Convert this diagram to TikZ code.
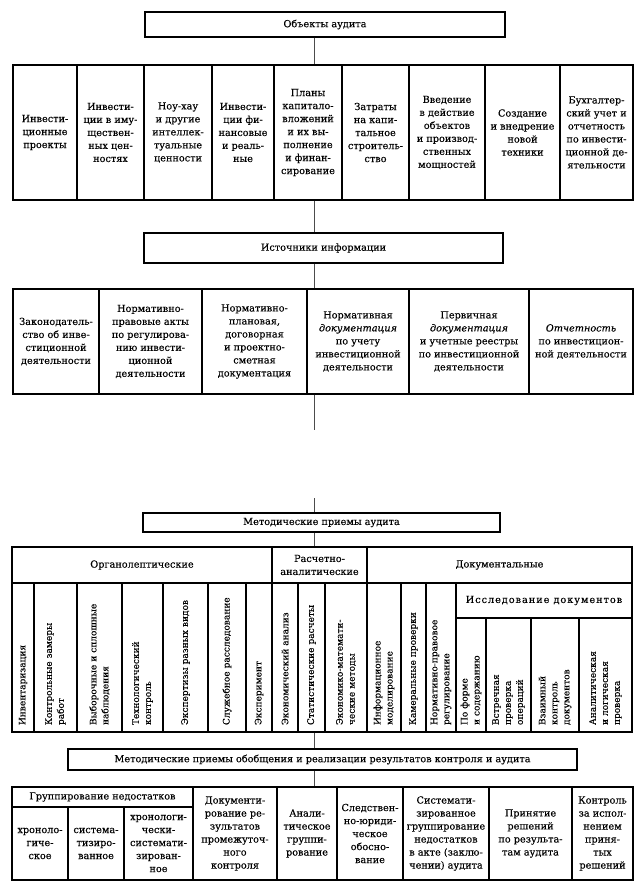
\documentclass[tikz,border=0pt]{standalone}
\usepackage{fontspec}
\setmainfont{DejaVu Serif}[FakeBold=0.15]
\usetikzlibrary{calc}
\tikzset{
  base/.style={draw=black, line width=1.2pt, inner sep=0pt, align=center, font=\fontsize{9.7}{13}\selectfont},
  vbase/.style={base, rotate=90, align=left, font=\fontsize{9}{12}\selectfont},
  conn/.style={draw=black!70, line width=0.9pt},
}
\newcommand{\mkcell}[7]{%
  \pgfmathsetmacro{\myW}{#5-#3}\pgfmathsetmacro{\myH}{#6-#4}%
  \node[#1, minimum width=\myW pt, minimum height=\myH pt] (#2) at ({(#3+#5)/2},{(#4+#6)/2}) {#7};}
\newcommand{\mkvcell}[7]{%
  \pgfmathsetmacro{\myW}{#5-#3}\pgfmathsetmacro{\myH}{#6-#4}\pgfmathsetmacro{\myT}{#6-#4-14}%
  \node[#1, minimum width=\myH pt, minimum height=\myW pt, text width=\myT pt] (#2) at ({(#3+#5)/2},{(#4+#6)/2}) {#7};}
\begin{document}
\begin{tikzpicture}[x=1pt,y=-1pt]
\fill[white] (0,0) rectangle (644,889);
\useasboundingbox (0,0) rectangle (644,889);
% --- Objects
\mkcell{base}{obj}{145}{12}{505}{37}{Объекты аудита}
\mkcell{base}{o1}{13}{65}{77}{200}{Инвести-\\ционные\\проекты}
\mkcell{base}{o2}{77}{65}{144}{200}{Инвести-\\ции в иму-\\ществен-\\ных цен-\\ностях}
\mkcell{base}{o3}{144}{65}{212}{200}{Ноу-хау\\и другие\\интеллек-\\туальные\\ценности}
\mkcell{base}{o4}{212}{65}{274}{200}{Инвести-\\ции фи-\\нансовые\\и реаль-\\ные}
\mkcell{base}{o5}{274}{65}{342}{200}{Планы\\капитало-\\вложений\\и их вы-\\полнение\\и финан-\\сирование}
\mkcell{base}{o6}{342}{65}{409}{200}{Затраты\\на капи-\\тальное\\строитель-\\ство}
\mkcell{base}{o7}{409}{65}{485}{200}{Введение\\в действие\\объектов\\и производ-\\ственных\\мощностей}
\mkcell{base}{o8}{485}{65}{560}{200}{Создание\\и внедрение\\новой\\техники}
\mkcell{base}{o9}{560}{65}{633}{200}{Бухгалтер-\\ский учет и\\отчетность\\по инвести-\\ционной де-\\ятельности}
% --- Sources
\mkcell{base}{src}{144}{233}{503}{263}{Источники информации}
\mkcell{base}{s1}{13}{289}{99}{394}{Законодатель-\\ство об инве-\\стиционной\\деятельности}
\mkcell{base}{s2}{99}{289}{202}{394}{Нормативно-\\правовые акты\\по регулирова-\\нию инвести-\\ционной\\деятельности}
\mkcell{base}{s3}{202}{289}{307}{394}{Нормативно-\\плановая,\\договорная\\и проектно-\\сметная\\документация}
\mkcell{base}{s4}{307}{289}{409}{394}{Нормативная\\\textit{документация}\\по учету\\инвестиционной\\деятельности}
\mkcell{base}{s5}{409}{289}{529}{394}{Первичная\\\textit{документация}\\и учетные реестры\\по инвестиционной\\деятельности}
\mkcell{base}{s6}{529}{289}{633}{394}{\textit{Отчетность}\\по инвестицион-\\ной деятельности}
% --- Methods
\mkcell{base}{met}{143}{513}{500}{532}{Методические приемы аудита}
\mkcell{base}{h1}{12}{547}{272}{583}{Органолептические}
\mkcell{base}{h2}{272}{547}{367}{583}{Расчетно-\\аналитические}
\mkcell{base}{h3}{367}{547}{632}{583}{Документальные}
\mkcell{base}{h4}{456}{583}{632}{618}{\addfontfeature{LetterSpace=10}Исследование документов}
\mkvcell{vbase}{v1}{12}{583}{34}{732}{Инвентаризация}
\mkvcell{vbase}{v2}{34}{583}{77}{732}{Контрольные замеры\\работ}
\mkvcell{vbase}{v3}{77}{583}{122}{732}{Выборочные и сплошные\\наблюдения}
\mkvcell{vbase}{v4}{122}{583}{163}{732}{Технологический\\контроль}
\mkvcell{vbase}{v5}{163}{583}{208}{732}{Экспертизы разных видов}
\mkvcell{vbase}{v6}{208}{583}{246}{732}{Служебное расследование}
\mkvcell{vbase}{v7}{246}{583}{272}{732}{Эксперимент}
\mkvcell{vbase}{v8}{272}{583}{298}{732}{Экономический анализ}
\mkvcell{vbase}{v9}{298}{583}{325}{732}{Статистические расчеты}
\mkvcell{vbase}{v10}{325}{583}{367}{732}{Экономико-математи-\\ческие методы}
\mkvcell{vbase}{v11}{367}{583}{401}{732}{Информационное\\моделирование}
\mkvcell{vbase}{v12}{401}{583}{426}{732}{Камеральные проверки}
\mkvcell{vbase}{v13}{426}{583}{456}{732}{Нормативно-правовое\\регулирование}
\mkvcell{vbase}{v14}{456}{618}{486}{732}{По форме\\и содержанию}
\mkvcell{vbase}{v15}{486}{618}{531}{732}{Встречная\\проверка\\операций}
\mkvcell{vbase}{v16}{531}{618}{579}{732}{Взаимный\\контроль\\документов}
\mkvcell{vbase}{v17}{579}{618}{632}{732}{Аналитическая\\и логическая\\проверка}
% --- Generalisation
\mkcell{base}{gen}{68}{749}{577}{770}{Методические приемы обобщения и реализации результатов контроля и аудита}
\mkcell{base}{gh}{12}{787}{193}{807}{Группирование недостатков}
\mkcell{base}{g1}{12}{807}{68}{880}{хроноло-\\гиче-\\ское}
\mkcell{base}{g2}{68}{807}{124}{880}{система-\\тизиро-\\ванное}
\mkcell{base}{g3}{124}{807}{193}{880}{хронологи-\\чески-\\системати-\\зирован-\\ное}
\mkcell{base}{b1}{193}{787}{277}{880}{Документи-\\рование ре-\\зультатов\\промежуточ-\\ного\\контроля}
\mkcell{base}{b2}{277}{787}{337}{880}{Анали-\\тическое\\группи-\\рование}
\mkcell{base}{b3}{337}{787}{403}{880}{Следствен-\\но-юриди-\\ческое\\обосно-\\вание}
\mkcell{base}{b4}{403}{787}{489}{880}{Системати-\\зированное\\группирование\\недостатков\\в акте (заклю-\\чении) аудита}
\mkcell{base}{b5}{489}{787}{572}{880}{Принятие\\решений\\по результа-\\там аудита}
\mkcell{base}{b6}{572}{787}{633}{880}{Контроль\\за испол-\\нением\\приня-\\тых\\решений}
% --- Connectors
\coordinate (sp) at (314,0);
\coordinate (gapA) at (314,430);
\coordinate (gapB) at (314,498);
\draw[conn] (obj.south -| sp) -- (o5.north -| sp);
\draw[conn] (o5.south -| sp) -- (src.north -| sp);
\draw[conn] (src.south -| sp) -- (s4.north -| sp);
\draw[conn] (s4.south -| sp) -- (gapA);
\draw[conn] (gapB) -- (met.north -| sp);
\draw[conn] (met.south -| sp) -- (h2.north -| sp);
\draw[conn] (v9.west -| sp) -- (gen.north -| sp);
\draw[conn] (gen.south -| sp) -- (b2.north -| sp);
\end{tikzpicture}
\end{document}
